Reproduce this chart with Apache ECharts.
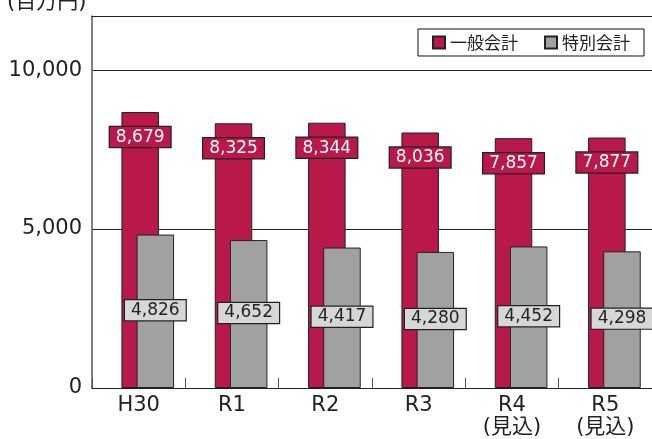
<!DOCTYPE html>
<html>

<head>
  <meta charset="utf-8" />
  <title></title>
  <script src="https://cdn.jsdelivr.net/npm/echarts@6/dist/echarts.min.js"></script>
  <style>
    html, body { margin: 0; padding: 0; background: #fff; }
  </style>
</head>

<body>
  <div id="main" style="width: 652px;height:439px;"></div>
  <script type="text/javascript">
    // 年度
    var categories = ['H30', 'R1', 'R2', 'R3', 'R4\n(見込)', 'R5\n(見込)'];
    // 一般会計 / 特別会計 (百万円)
    var generalValues = [8679, 8325, 8344, 8036, 7857, 7877];
    var specialValues = [4826, 4652, 4417, 4280, 4452, 4298];
    var yMin = 0, yMax = 11700, yStep = 5000;

    var fmt = function (v) {
      return String(v).replace(/\B(?=(\d{3})+(?!\d))/g, ',');
    };
    var font = '"DejaVu Sans", "Noto Sans CJK JP", sans-serif';
    var cjkFont = '"Noto Sans CJK JP", sans-serif';

    var chart = echarts.init(document.getElementById('main'));
    var option = {
      animation: false,
      textStyle: { fontFamily: font },
      title: {
        text: '(百万円)',
        left: 2,
        top: -13,
        textStyle: { fontFamily: font, fontSize: 21, fontWeight: 'normal', color: '#222' }
      },
      legend: {
        data: ['一般会計', '特別会計'],
        left: 418,
        top: 29,
        padding: [5, 14, 5, 14],
        itemGap: 26,
        itemWidth: 12,
        itemHeight: 12,
        icon: 'rect',
        borderColor: '#111',
        borderWidth: 1,
        backgroundColor: '#fff',
        textStyle: { fontFamily: cjkFont, fontSize: 17, color: '#222' }
      },
      grid: { left: 92, right: -6, top: 16, bottom: 45, containLabel: false },
      xAxis: [{
        type: 'category',
        data: categories,
        axisLine: { lineStyle: { color: '#222', width: 1 } },
        axisTick: { show: true, inside: true, length: 10, lineStyle: { color: '#555' } },
        axisLabel: {
          fontFamily: font, fontSize: 21, color: '#222', margin: 7, lineHeight: 22
        }
      }, {
        type: 'category',
        position: 'top',
        data: categories,
        axisLine: { show: true, lineStyle: { color: '#222', width: 1 } },
        axisTick: { show: false },
        axisLabel: { show: false }
      }],
      yAxis: {
        type: 'value',
        min: yMin,
        max: yMax,
        interval: yStep,
        axisLine: { show: true, lineStyle: { color: '#555', width: 1.5 } },
        axisTick: { show: false },
        axisLabel: {
          fontFamily: font, fontSize: 21, color: '#222', margin: 10,
          showMaxLabel: false,
          formatter: fmt
        },
        splitLine: { show: true, lineStyle: { color: '#222', width: 1 } }
      },
      series: [
        {
          // spacer so the pair of bars sits right of the band centre
          name: 'spacer',
          type: 'bar',
          barWidth: 45,
          barGap: '-59.6%',
          data: [],
          silent: true
        },
        {
          name: '一般会計',
          type: 'bar',
          barWidth: 37.5,
          barGap: '-59.6%',
          data: generalValues,
          itemStyle: { color: '#B9184A', borderColor: '#222', borderWidth: 1 },
          label: {
            show: true,
            position: 'insideTop',
            distance: 15,
            formatter: function (p) { return fmt(p.value); },
            fontFamily: font,
            fontSize: 17,
            color: '#fff',
            backgroundColor: '#B9184A',
            borderColor: '#222',
            borderWidth: 1.2,
            padding: [2, 6, 1, 6]
          }
        },
        {
          name: '特別会計',
          type: 'bar',
          barWidth: 37.5,
          barGap: '-59.6%',
          data: specialValues,
          itemStyle: { color: '#A0A1A0', borderColor: '#222', borderWidth: 1 },
          label: {
            show: true,
            position: 'inside',
            offset: [0, -1],
            formatter: function (p) { return fmt(p.value); },
            fontFamily: font,
            fontSize: 17,
            color: '#222',
            backgroundColor: '#D6D8D7',
            borderColor: '#222',
            borderWidth: 1.2,
            padding: [2, 6, 1, 6]
          }
        }
      ]
    };
    chart.setOption(option);

    window.onresize = function () {
      chart.resize();
    };
  </script>
</body>

</html>
